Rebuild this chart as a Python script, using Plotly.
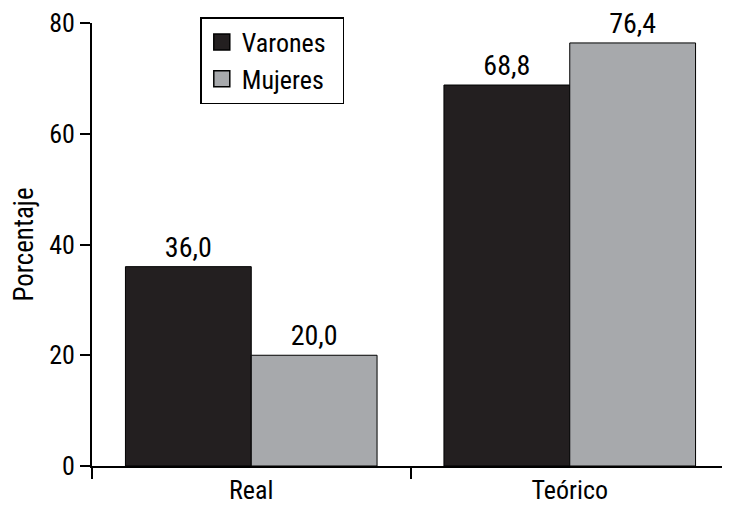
import plotly.graph_objects as go

categories = ["Real", "Teórico"]
varones = [36.0, 68.8]
mujeres = [20.0, 76.4]
y_ticks = [0, 20, 40, 60, 80]

FONT = "Liberation Sans Narrow, Roboto Condensed, Arial Narrow, sans-serif"
C_VAR = "#231f20"
C_MUJ = "#a7a9ac"


def fmt(vals):
    return [f"{v:.1f}".replace(".", ",") for v in vals]


fig = go.Figure()
fig.add_trace(go.Bar(
    x=categories, y=varones, name="Varones", showlegend=False,
    marker=dict(color=C_VAR, line=dict(color="#000000", width=1)),
    text=fmt(varones), textposition="outside", cliponaxis=False,
    textfont=dict(family=FONT, size=28, color="#000000"),
))
fig.add_trace(go.Bar(
    x=categories, y=mujeres, name="Mujeres", showlegend=False,
    marker=dict(color=C_MUJ, line=dict(color="#000000", width=1)),
    text=fmt(mujeres), textposition="outside", cliponaxis=False,
    textfont=dict(family=FONT, size=28, color="#000000"),
))
# legend entries with bigger square swatches
for name, col in [("Varones", C_VAR), ("Mujeres", C_MUJ)]:
    fig.add_trace(go.Scatter(
        x=[None], y=[None], mode="markers", name=name + "\u00a0\u00a0",
        marker=dict(symbol="square", size=21, color=col,
                    line=dict(color="#000000", width=1.5)),
    ))

# the page adds an 8px body margin, so the figure is shifted by 8px
fig.update_layout(
    width=722, height=503,
    barmode="group", bargap=0.21, bargroupgap=0,
    plot_bgcolor="white", paper_bgcolor="white",
    font=dict(family=FONT, size=26, color="#000000"),
    margin=dict(l=84, r=1, t=15, b=45),
    legend=dict(
        x=0.17, y=1.0135, xanchor="left", yanchor="top",
        bordercolor="#000000", borderwidth=1.5, bgcolor="white",
        font=dict(family=FONT, size=26),
        itemwidth=30, tracegroupgap=0,
    ),
)
fig.update_xaxes(
    showline=True, linecolor="#000000", linewidth=2,
    ticks="outside", tickson="boundaries", ticklen=11, tickwidth=2,
    tickcolor="#000000", showgrid=False, automargin=False,
    tickfont=dict(family=FONT, size=26),
)
fig.update_yaxes(
    range=[0, 80], tickvals=y_ticks,
    showline=True, linecolor="#000000", linewidth=2,
    ticks="outside", ticklen=10, tickwidth=2, tickcolor="#000000",
    showgrid=False, zeroline=False, automargin=False,
    tickfont=dict(family=FONT, size=26),
    title=dict(text="Porcentaje", font=dict(family=FONT, size=27), standoff=14),
)

fig.write_html("out.html")
